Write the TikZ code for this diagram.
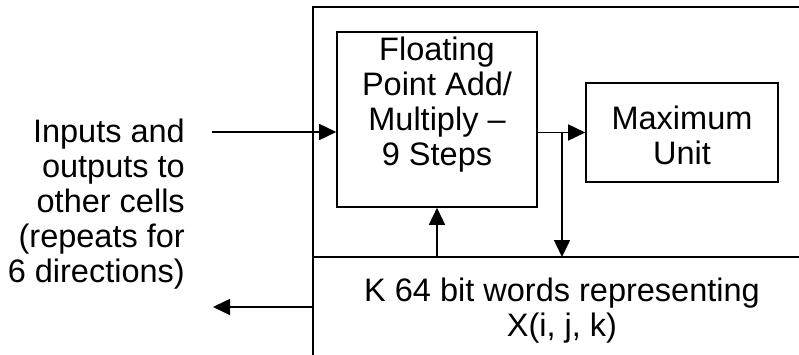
\documentclass[tikz,border=0pt]{standalone}
\usepackage{fontspec}
\setmainfont{Liberation Sans}
\usetikzlibrary{arrows.meta}
\begin{document}
\begin{tikzpicture}[x=1pt, y=-1pt,
    txt/.style={font=\fontsize{32.5}{35}\selectfont, inner sep=0pt, align=center},
    unit/.style={draw, line width=1.6pt, inner sep=0pt},
    frame/.style={line width=2.2pt},
    flow/.style={line width=1.6pt, -{Triangle[length=17pt, width=16pt]}}]
  \useasboundingbox (0,0) rectangle (799,355);

  % cell frame: top edge, left edge and the memory divider
  \coordinate (tr) at (799,7);
  \coordinate (tl) at (313,7);
  \coordinate (bl) at (313,355);
  \coordinate (ml) at (313,257);
  \coordinate (mr) at (799,257);
  \draw[frame] (tr) -- (tl) -- (bl);
  \draw[frame] (ml) -- (mr);

  % processing units
  \node[unit, minimum width=200pt, minimum height=175pt] (fp) at (437,119.5) {};
  \node[txt] (fpt) at (437,105) {Floating\\Point Add/\\Multiply –\\9 Steps};
  \node[unit, minimum width=192pt, minimum height=99pt] (max) at (682,132.5) {};
  \node[txt] (maxt) at (682,135) {Maximum\\Unit};

  % memory contents
  \node[txt] (mem) at (562,311) {K 64 bit words representing\\X(i, j, k)};

  % external connections
  \node[txt, align=right, anchor=east] (io) at (185,204)
    {Inputs and\\outputs to\\other cells\\(repeats for\\6 directions)};
  \coordinate (inA) at (212,132);
  \coordinate (outA) at (313,307);
  \coordinate (outB) at (213,307);
  \draw[flow] (inA) -- (fp.west |- inA);
  \draw[flow] (outA) -- (outB);

  % data paths between units and memory
  \coordinate (split) at (562,132.5);
  \coordinate (memTop) at (562,257);
  \coordinate (memUp) at (437,257);
  \draw[flow] (fp.east |- max.west) -- (max.west);
  \draw[flow] (split) -- (memTop);
  \draw[flow] (memUp) -- (fp.south);
\end{tikzpicture}
\end{document}
